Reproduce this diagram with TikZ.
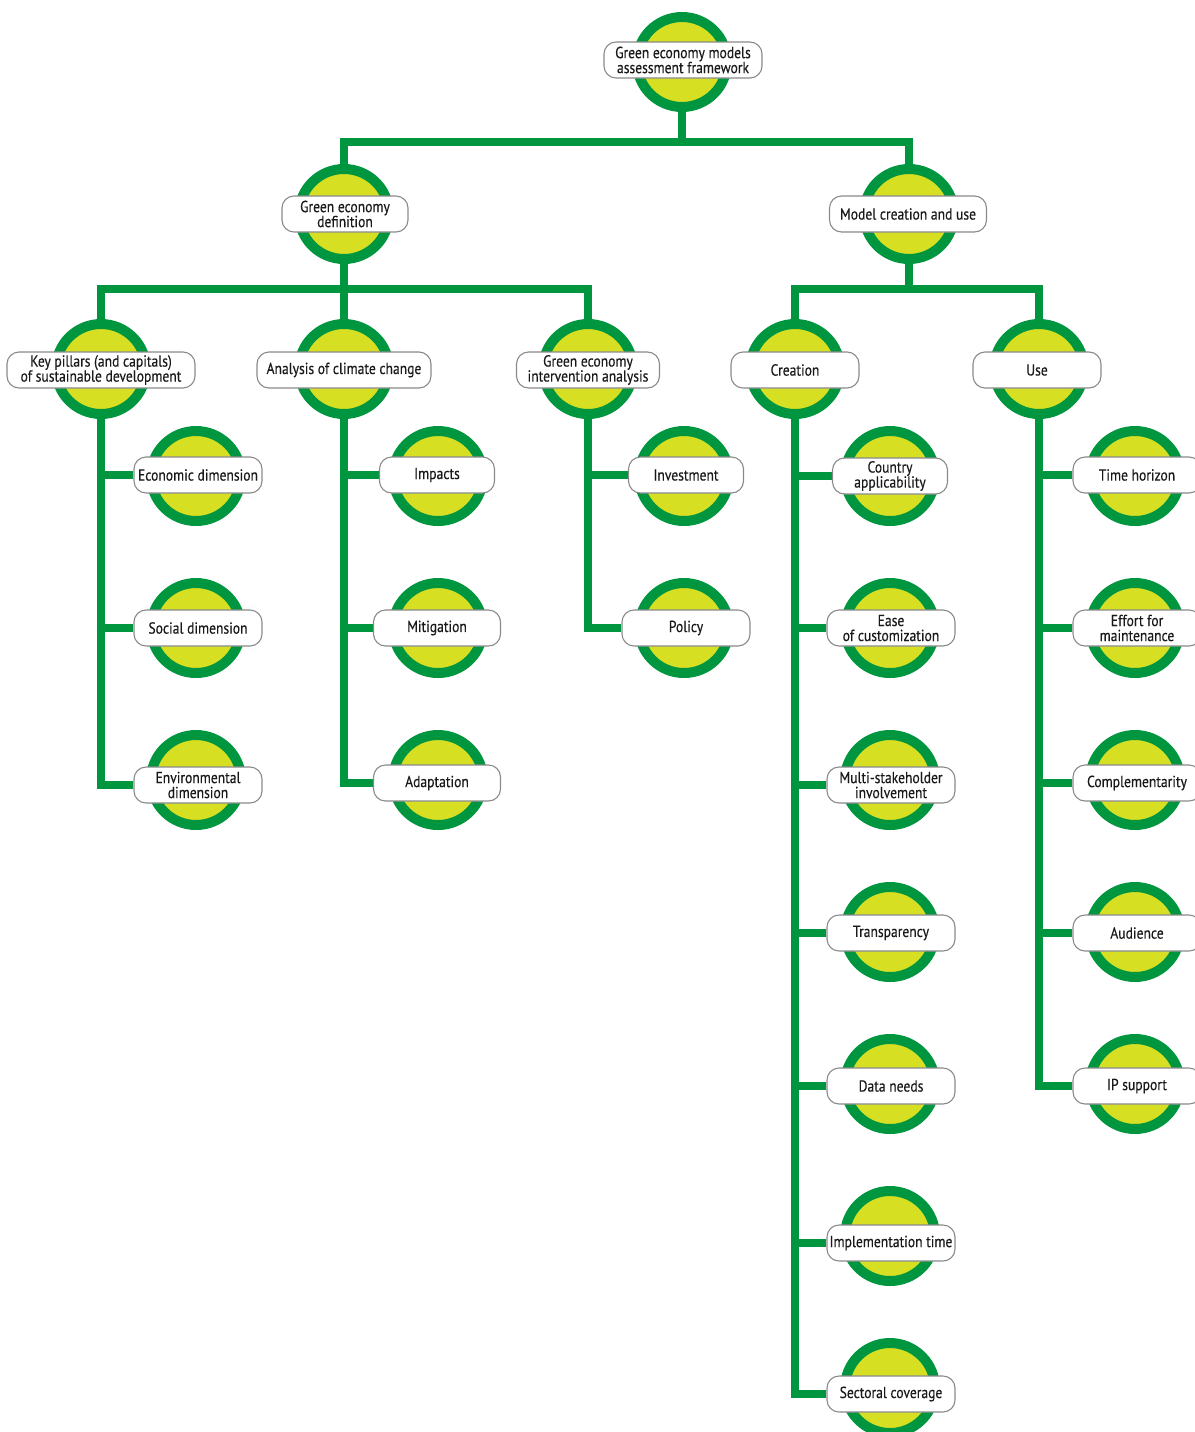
\documentclass[tikz,border=0pt]{standalone}
\usepackage{fontspec}
\setmainfont{PT Sans}[FakeStretch=0.85,FakeBold=0.3]
\usetikzlibrary{backgrounds}
\definecolor{tgreen}{HTML}{00963F}
\definecolor{tyellow}{HTML}{D6DF22}
\definecolor{tborder}{HTML}{8A8A8A}
\begin{document}
\begin{tikzpicture}[x=1pt,y=-1pt,
  circ/.style={circle,draw=tgreen,fill=tyellow,line width=10pt,minimum size=90pt,inner sep=0pt},
  lab/.style={draw=tborder,fill=white,rounded corners=12pt,line width=1.1pt,minimum height=36pt,
    inner sep=1pt,align=center,text=black!90,font=\fontsize{16}{15}\selectfont},
  conn/.style={draw=tgreen,line width=8.5pt,line join=miter}]
\useasboundingbox (0,0) rectangle (1194,1432);
% circles
\node[circ] (top) at (682,62) {};
\node[circ] (ged) at (344,214) {};
\node[circ] (mcu) at (909,214) {};
\node[circ] (kp) at (101,369) {};
\node[circ] (acc) at (344,369) {};
\node[circ] (gei) at (588,369) {};
\node[circ] (cre) at (795,369) {};
\node[circ] (use) at (1039,369) {};
\node[circ] (c1) at (196,476) {};
\node[circ] (c2) at (196,628) {};
\node[circ] (c3) at (196,780) {};
\node[circ] (d1) at (438,476) {};
\node[circ] (d2) at (438,628) {};
\node[circ] (d3) at (438,780) {};
\node[circ] (e1) at (684,476) {};
\node[circ] (e2) at (684,628) {};
\node[circ] (f1) at (890,476) {};
\node[circ] (f2) at (890,628) {};
\node[circ] (f3) at (890,780) {};
\node[circ] (f4) at (890,932) {};
\node[circ] (f5) at (890,1084) {};
\node[circ] (f6) at (890,1236) {};
\node[circ] (f7) at (890,1388) {};
\node[circ] (g1) at (1135,476) {};
\node[circ] (g2) at (1135,628) {};
\node[circ] (g3) at (1135,780) {};
\node[circ] (g4) at (1135,932) {};
\node[circ] (g5) at (1135,1084) {};
% bar coordinates
\coordinate (b1) at (682,142);
\coordinate (b2) at (344,289);
\coordinate (b3) at (909,289);
% labels
\node[lab,minimum width=158pt] (topl) at (683,60) {Green economy models\\assessment framework};
\node[lab,minimum width=126pt] (gedl) at (345,214) {Green economy\\definition};
\node[lab,minimum width=157pt] (mcul) at (908,214) {Model creation and use};
\node[lab,minimum width=188pt] (kpl) at (101,370) {Key pillars (and capitals)\\of sustainable development};
\node[lab,minimum width=174pt] (accl) at (344,370) {Analysis of climate change};
\node[lab,minimum width=143pt] (geil) at (588,370) {Green economy\\intervention analysis};
\node[lab,minimum width=128pt] (crel) at (795,370) {Creation};
\node[lab,minimum width=128pt] (usel) at (1037,370) {Use};
\node[lab,minimum width=128pt] (c1l) at (198,475) {Economic dimension};
\node[lab,minimum width=128pt] (c2l) at (198,628) {Social dimension};
\node[lab,minimum width=128pt] (c3l) at (198,785) {Environmental\\dimension};
\node[lab,minimum width=115pt] (d1l) at (437,475) {Impacts};
\node[lab,minimum width=127pt] (d2l) at (437,628) {Mitigation};
\node[lab,minimum width=127pt] (d3l) at (437,783) {Adaptation};
\node[lab,minimum width=115pt] (e1l) at (686,475) {Investment};
\node[lab,minimum width=128pt] (e2l) at (686,628) {Policy};
\node[lab,minimum width=115pt] (f1l) at (890,476) {Country\\applicability};
\node[lab,minimum width=128pt] (f2l) at (891,628) {Ease\\of customization};
\node[lab,minimum width=128pt] (f3l) at (891,785) {Multi-stakeholder\\involvement};
\node[lab,minimum width=128pt] (f4l) at (891,933) {Transparency};
\node[lab,minimum width=128pt] (f5l) at (891,1086) {Data needs};
\node[lab,minimum width=128pt] (f6l) at (891,1243) {Implementation time};
\node[lab,minimum width=128pt] (f7l) at (891,1394) {Sectoral coverage};
\node[lab,minimum width=128pt] (g1l) at (1137,475) {Time horizon};
\node[lab,minimum width=128pt] (g2l) at (1137,628) {Effort for\\maintenance};
\node[lab,minimum width=128pt] (g3l) at (1137,783) {Complementarity};
\node[lab,minimum width=128pt] (g4l) at (1137,933) {Audience};
\node[lab,minimum width=128pt] (g5l) at (1137,1086) {IP support};
% connectors behind
\begin{pgfonlayer}{background}
\draw[conn] (top.center) -- (b1) -| (ged.center);
\draw[conn] (b1) -| (mcu.center);
\draw[conn] (ged.center) -- (b2) -| (kp.center);
\draw[conn] (b2) -| (gei.center);
\draw[conn] (b2) -- (acc.center);
\draw[conn] (mcu.center) -- (b3) -| (cre.center);
\draw[conn] (b3) -| (use.center);
% columns
\draw[conn] (kp.center) |- (c3l.west);
\draw[conn] (kp.center |- c1l.west) -- (c1l.west);
\draw[conn] (kp.center |- c2l.west) -- (c2l.west);
\draw[conn] (acc.center) |- (d3l.west);
\draw[conn] (acc.center |- d1l.west) -- (d1l.west);
\draw[conn] (acc.center |- d2l.west) -- (d2l.west);
\draw[conn] (gei.center) |- (e2l.west);
\draw[conn] (gei.center |- e1l.west) -- (e1l.west);
\draw[conn] (cre.center) |- (f7l.west);
\foreach \n in {f1l,f2l,f3l,f4l,f5l,f6l}
  \draw[conn] (cre.center |- \n.west) -- (\n.west);
\draw[conn] (use.center) |- (g5l.west);
\foreach \n in {g1l,g2l,g3l,g4l}
  \draw[conn] (use.center |- \n.west) -- (\n.west);
\end{pgfonlayer}
\end{tikzpicture}
\end{document}
